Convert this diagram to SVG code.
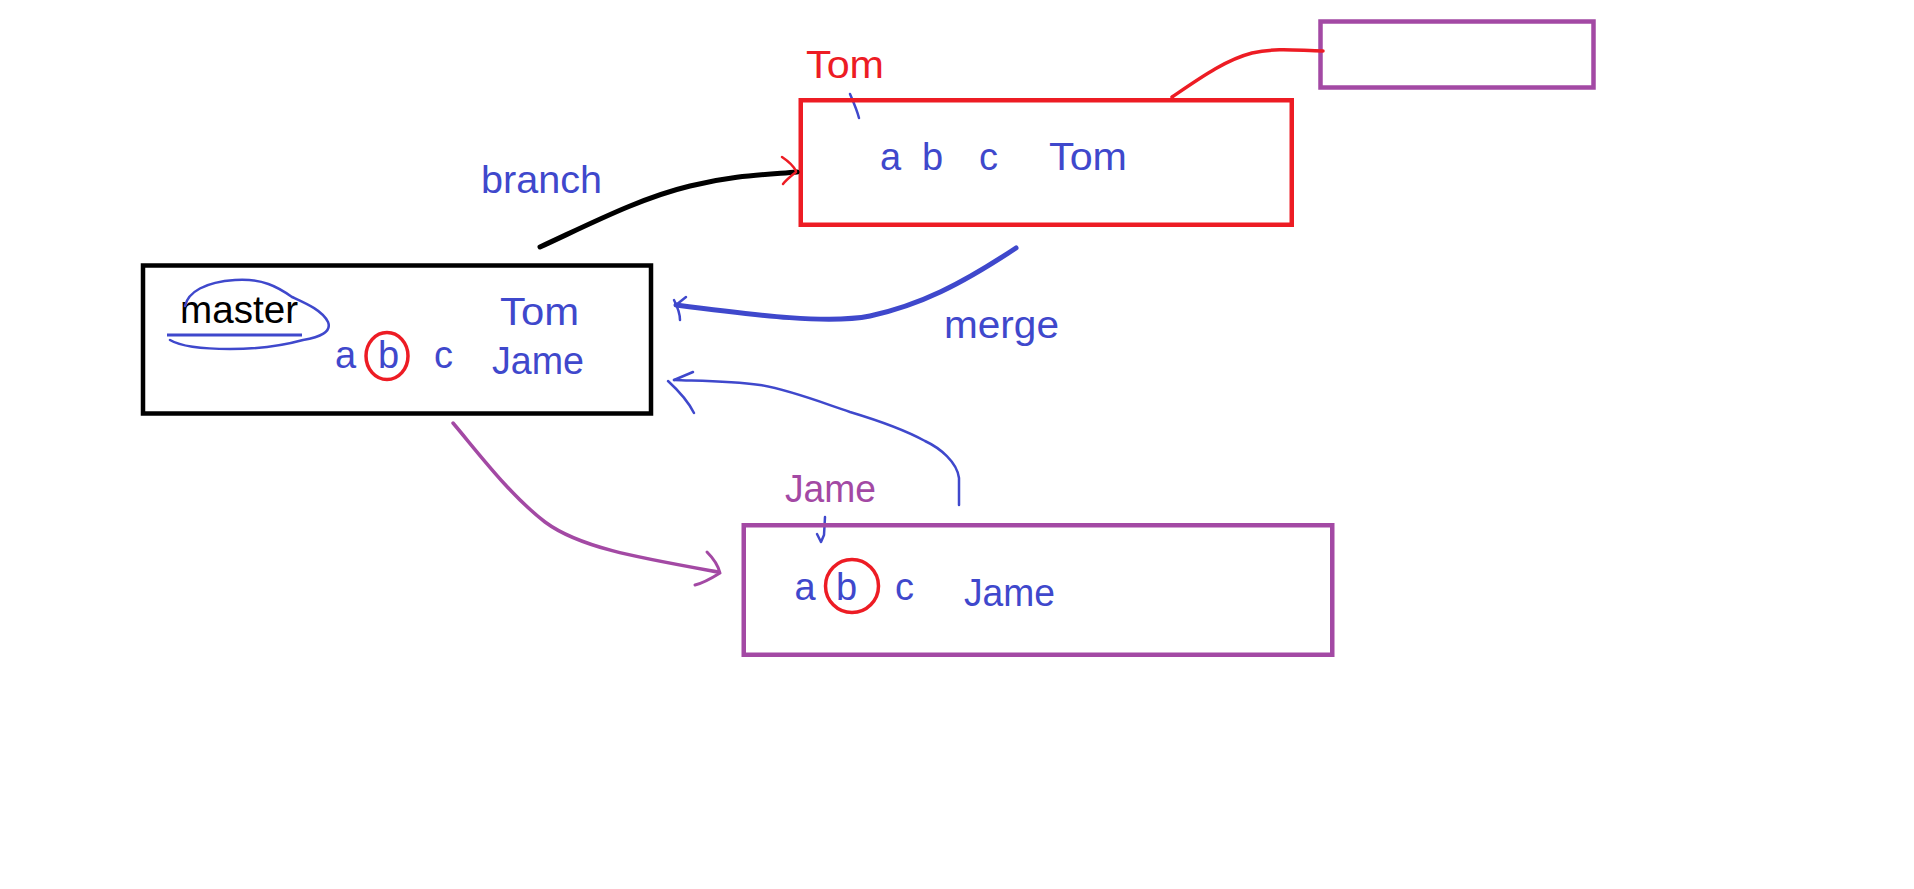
<svg xmlns="http://www.w3.org/2000/svg" width="1914" height="889" viewBox="0 0 1914 889">
<style>
text{font-family:"Liberation Sans",Arial,sans-serif;font-size:38px}
.bl{fill:#3F48CC}
.rd{fill:#ED1C24}
.pu{fill:#A349A4}
.bk{fill:#000}
.box{fill:none;stroke-width:4.5}
.ln{fill:none;stroke-linecap:round;stroke-linejoin:round}
</style>
<rect width="1914" height="889" fill="#fff"/>
<g id="master">
<rect class="box" x="143" y="265.5" width="508" height="148" stroke="#000"/>
<text class="bk" x="180" y="323" textLength="118" lengthAdjust="spacingAndGlyphs">master</text>
<line x1="167" y1="335" x2="302" y2="335" stroke="#3F48CC" stroke-width="3"/>
<path class="ln" d="M185 306 C188 292 205 282 235 280 C262 278 278 287 292 297 C305 303 322 310 328 322 C332 332 320 337 303 340 C285 345 265 349 230 349 C200 349 180 346 170 340" stroke="#3F48CC" stroke-width="2.5"/>
<text class="bl" x="335" y="368">a</text>
<text class="bl" x="378" y="368">b</text>
<text class="bl" x="434" y="368">c</text>
<ellipse cx="387" cy="356" rx="21" ry="23.5" fill="none" stroke="#ED1C24" stroke-width="3.5"/>
<text class="bl" x="500" y="325" textLength="79" lengthAdjust="spacingAndGlyphs">Tom</text>
<text class="bl" x="492" y="374" textLength="92" lengthAdjust="spacingAndGlyphs">Jame</text>
</g>
<g id="tom">
<text class="rd" x="806" y="78" textLength="78" lengthAdjust="spacingAndGlyphs">Tom</text>
<path class="ln" d="M850 94 C853 101 857 110 859 118" stroke="#3F48CC" stroke-width="2.5"/>
<rect class="box" x="800.75" y="100.25" width="491" height="124.5" stroke="#ED1C24"/>
<text class="bl" x="880" y="170">a</text>
<text class="bl" x="922" y="170">b</text>
<text class="bl" x="979" y="170">c</text>
<text class="bl" x="1049" y="170" textLength="78" lengthAdjust="spacingAndGlyphs">Tom</text>
</g>
<g id="extra">
<rect class="box" x="1320.5" y="21.5" width="273" height="66" stroke="#A349A4"/>
</g>
<g id="jame">
<text class="pu" x="785" y="502" textLength="91" lengthAdjust="spacingAndGlyphs">Jame</text>
<path class="ln" d="M825 517 L824 535 L821 542 M817 534 L821 542" stroke="#3F48CC" stroke-width="2.5"/>
<rect class="box" x="743.75" y="525.25" width="588.5" height="129.5" stroke="#A349A4"/>
<text class="bl" x="794.5" y="600">a</text>
<text class="bl" x="836" y="600">b</text>
<text class="bl" x="895" y="600">c</text>
<ellipse cx="852" cy="586" rx="26.5" ry="26.5" fill="none" stroke="#ED1C24" stroke-width="3.5"/>
<text class="bl" x="964" y="606" textLength="91" lengthAdjust="spacingAndGlyphs">Jame</text>
</g>
<g id="connectors">
<text class="bl" x="481" y="193" textLength="121" lengthAdjust="spacingAndGlyphs">branch</text>
<path class="ln" d="M540 247 C590 224 640 198 690 186 C730 176 760 175 797 172" stroke="#000" stroke-width="5"/>
<path class="ln" d="M782 157 C788 161 793 165 796 171 M796 172 C791 176 786 180 783 184" stroke="#ED1C24" stroke-width="2.5"/>
<path class="ln" d="M1172 97 C1200 78 1225 60 1252 53 C1280 47 1300 51 1323 51" stroke="#ED1C24" stroke-width="3.5"/>
<text class="bl" x="944" y="338" textLength="115" lengthAdjust="spacingAndGlyphs">merge</text>
<path class="ln" d="M1016 248 C960 285 920 305 870 316 C830 324 760 316 676 305" stroke="#3F48CC" stroke-width="5"/>
<path class="ln" d="M676 305 L686 297 M674 300 C678 308 680 314 680 320" stroke="#3F48CC" stroke-width="2.5"/>
<path class="ln" d="M959 505 L959 478 C957 462 940 448 925 441 C905 430 880 421 850 412 C820 402 790 390 760 385 C730 381 700 381 674 380" stroke="#3F48CC" stroke-width="2.5"/>
<path class="ln" d="M674 380 L693 372 M668 381 C680 392 690 405 694 413" stroke="#3F48CC" stroke-width="2.5"/>
<path class="ln" d="M453 423 C480 455 510 495 545 522 C580 548 640 558 718 572" stroke="#A349A4" stroke-width="3.5"/>
<path class="ln" d="M707 552 C713 558 718 565 720 573 M720 573 C712 578 704 583 695 585" stroke="#A349A4" stroke-width="3"/>
</g>
</svg>
